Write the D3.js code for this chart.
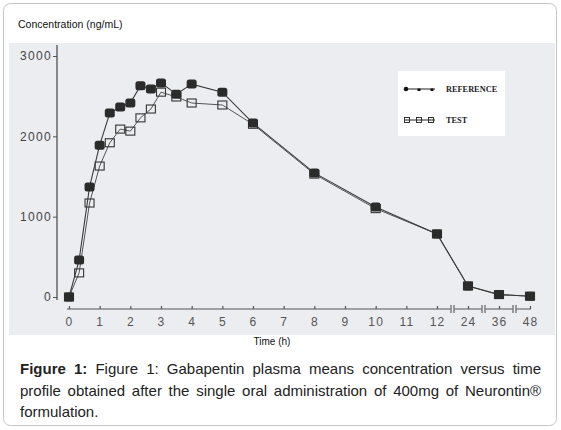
<!DOCTYPE html>
<html>
<head>
<meta charset="utf-8">
<script src="https://cdn.jsdelivr.net/npm/d3@7"></script>
<style>
  body { margin: 0; background: #fff; font-family: "Liberation Sans", Arial, sans-serif; }
  #box { position: relative; width: 561px; height: 430px; }
  #caption { position: absolute; left: 20px; top: 358px; width: 521px; font-size: 15px; line-height: 21.5px; text-align: justify; color: #222; }
</style>
</head>
<body>
<div id="box">
  <svg id="chart" width="561" height="430"></svg>
  <div id="caption"></div>
</div>
<script>
// sampling times (h) and mean concentrations (ng/mL)
const times = [0, 0.33, 0.67, 1, 1.33, 1.67, 2, 2.33, 2.67, 3, 3.5, 4, 5, 6, 8, 10, 12, 24, 36, 48];
const reference = [0, 460, 1370, 1890, 2290, 2365, 2415, 2630, 2590, 2665, 2525, 2650, 2550, 2165, 1545, 1120, 785, 137, 30, 10];
const test = [0, 300, 1170, 1630, 1920, 2090, 2065, 2230, 2340, 2550, 2490, 2415, 2390, 2150, 1530, 1100, 785, 137, 30, 10];
const xTicks = [0, 1, 2, 3, 4, 5, 6, 7, 8, 9, 10, 11, 12, 24, 36, 48];
const yTicks = [0, 1000, 2000, 3000];
const axisBreaks = [18, 30, 42];
const captionLead = 'Figure 1:';
const captionText = 'Figure 1: Gabapentin plasma means concentration versus time profile obtained after the single oral administration of 400mg of Neurontin® formulation.';

const svg = d3.select('#chart');

// card and grey plot image
svg.append('rect')
  .attr('x', 3.5).attr('y', 3.5).attr('width', 553).attr('height', 422).attr('rx', 7)
  .attr('fill', '#fff').attr('stroke', '#c4c4c4');
svg.append('rect')
  .attr('x', 9).attr('y', 43).attr('width', 546).attr('height', 292)
  .attr('fill', '#ecedf1');

svg.append('text')
  .attr('x', 18).attr('y', 28)
  .attr('font-size', '10.5px').attr('fill', '#111')
  .text('Concentration (ng/mL)');

// broken time axis: 0-12 h linear, then 24/36/48 at one step each
const x = d3.scaleLinear()
  .domain([0, 12, 24, 36, 48])
  .range([69, 437, 468, 499, 530]);
const y = d3.scaleLinear()
  .domain([0, 3000])
  .range([297, 56]);

const yAxis = svg.append('g')
  .attr('transform', 'translate(57,0)')
  .call(d3.axisLeft(y).tickValues(yTicks).tickSize(4).tickSizeOuter(0).tickPadding(1).tickFormat(d3.format('d')));
yAxis.select('.domain').remove();
yAxis.selectAll('line').attr('stroke', '#555');
yAxis.selectAll('text')
  .attr('font-family', '"Liberation Sans", Arial, sans-serif')
  .attr('font-size', '12px').attr('letter-spacing', '1.3px').attr('fill', '#444');
svg.append('line')
  .attr('x1', 57).attr('x2', 57).attr('y1', 45).attr('y2', 300)
  .attr('stroke', '#444').attr('stroke-width', 1.2);

const xAxis = svg.append('g')
  .attr('transform', 'translate(0,309)')
  .call(d3.axisBottom(x).tickValues(xTicks).tickSize(-3).tickSizeOuter(0).tickPadding(8).tickFormat(d3.format('d')));
xAxis.select('.domain').remove();
xAxis.selectAll('line').attr('stroke', '#555').attr('stroke-width', 1.2);
xAxis.selectAll('text')
  .attr('font-family', '"Liberation Sans", Arial, sans-serif')
  .attr('font-size', '12px').attr('letter-spacing', '1.2px').attr('fill', '#555');
svg.append('line')
  .attr('x1', x(0) - 2).attr('x2', x(48) + 1).attr('y1', 309).attr('y2', 309)
  .attr('stroke', '#555').attr('stroke-width', 1.2);

// break marks on the time axis
const brk = svg.append('g').selectAll('g')
  .data(axisBreaks)
  .enter()
  .append('g')
  .attr('transform', function (d) { return 'translate(' + x(d) + ',309)'; });
brk.append('rect')
  .attr('x', -2).attr('y', -3).attr('width', 4).attr('height', 6)
  .attr('fill', '#ecedf1');
[-1.5, 1.5].forEach(function (dx) {
  brk.append('line')
    .attr('x1', dx).attr('x2', dx).attr('y1', -4).attr('y2', 4)
    .attr('stroke', '#444').attr('stroke-width', 1);
});

svg.append('text')
  .attr('x', 272).attr('y', 345)
  .attr('text-anchor', 'middle')
  .attr('font-size', '10px').attr('fill', '#111')
  .text('Time (h)');

const refData = times.map(function (t, i) { return { t: t, v: reference[i] }; });
const testData = times.map(function (t, i) { return { t: t, v: test[i] }; });
const line = d3.line()
  .x(function (d) { return x(d.t); })
  .y(function (d) { return y(d.v); });

// test: open squares
svg.append('path')
  .datum(testData)
  .attr('d', line)
  .attr('fill', 'none').attr('stroke', '#555').attr('stroke-width', 1);
svg.append('g').selectAll('rect')
  .data(testData)
  .enter()
  .append('rect')
  .attr('x', function (d) { return x(d.t) - 4.5; })
  .attr('y', function (d) { return y(d.v) - 4; })
  .attr('width', 9).attr('height', 8)
  .attr('fill', 'none').attr('stroke', '#333').attr('stroke-width', 1.1);

// reference: filled markers
svg.append('path')
  .datum(refData)
  .attr('d', line)
  .attr('fill', 'none').attr('stroke', '#3a3a3a').attr('stroke-width', 1.1);
svg.append('g').selectAll('rect')
  .data(refData)
  .enter()
  .append('rect')
  .attr('x', function (d) { return x(d.t) - 5; })
  .attr('y', function (d) { return y(d.v) - 4.5; })
  .attr('width', 10).attr('height', 9).attr('rx', 2.5)
  .attr('fill', '#2b2b2b');

// legend
const legend = svg.append('g');
legend.append('rect')
  .attr('x', 398).attr('y', 71).attr('width', 107).attr('height', 65)
  .attr('fill', '#fff');
legend.append('line')
  .attr('x1', 405).attr('x2', 435).attr('y1', 89).attr('y2', 89)
  .attr('stroke', '#222').attr('stroke-width', 1);
legend.append('circle')
  .attr('cx', 406).attr('cy', 89).attr('r', 2.3).attr('fill', '#111');
[419, 432].forEach(function (cx) {
  legend.append('rect')
    .attr('x', cx - 1.5).attr('y', 88.5).attr('width', 3).attr('height', 2.5).attr('fill', '#111');
});
legend.append('line')
  .attr('x1', 405).attr('x2', 435).attr('y1', 120).attr('y2', 120)
  .attr('stroke', '#222').attr('stroke-width', 1);
[407, 419, 431].forEach(function (cx) {
  legend.append('rect')
    .attr('x', cx - 2.5).attr('y', 117.5).attr('width', 5).attr('height', 5)
    .attr('fill', 'none').attr('stroke', '#222').attr('stroke-width', 0.9);
});
legend.append('text')
  .attr('x', 446).attr('y', 92)
  .attr('font-family', '"Liberation Serif", "Times New Roman", serif')
  .attr('font-weight', 'bold').attr('font-size', '8.3px').attr('fill', '#222')
  .text('REFERENCE');
legend.append('text')
  .attr('x', 446).attr('y', 123)
  .attr('font-family', '"Liberation Serif", "Times New Roman", serif')
  .attr('font-weight', 'bold').attr('font-size', '8.3px').attr('fill', '#222')
  .text('TEST');

// caption: one span per word so the justified block wraps naturally
const caption = d3.select('#caption');
caption.append('b').text(captionLead);
captionText.split(' ').forEach(function (w) {
  caption.append('span').text(' ');
  caption.append('span').text(w);
});
</script>
</body>
</html>
